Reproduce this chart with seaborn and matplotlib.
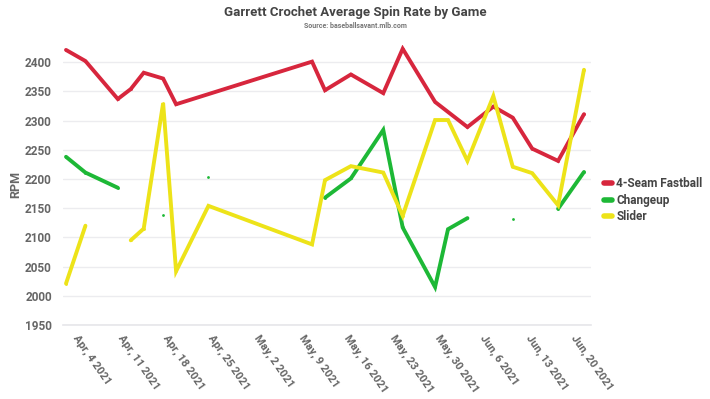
import numpy as np
import pandas as pd
import matplotlib
matplotlib.use("Agg")
import matplotlib.pyplot as plt
import matplotlib.dates as mdates
import seaborn as sns

nan = np.nan

# game dates and average spin rate (rpm) per pitch type
dates = ["2021-04-02", "2021-04-05", "2021-04-10", "2021-04-12", "2021-04-14",
         "2021-04-17", "2021-04-19", "2021-04-24", "2021-05-10", "2021-05-12",
         "2021-05-16", "2021-05-21", "2021-05-24", "2021-05-29", "2021-05-31",
         "2021-06-03", "2021-06-07", "2021-06-10", "2021-06-13", "2021-06-17",
         "2021-06-21"]
fastball = [2421, 2402, 2337, 2354, 2382, 2372, 2328, nan, 2401, 2352,
            2379, 2347, 2423, 2332, nan, 2289, 2324, 2305, 2252, 2231, 2311]
changeup = [2238, 2211, 2185, nan, nan, 2138, nan, 2203, nan, 2168,
            2201, 2284, 2117, 2015, 2114, 2133, nan, 2131, nan, 2149, 2212]
slider = [2021, 2120, nan, 2095, 2115, 2330, 2042, 2154, 2088, 2198,
          2222, 2211, 2137, 2301, 2301, 2231, 2342, 2221, 2210, 2155, 2387]

pitches = ["4-Seam Fastball", "Changeup", "Slider"]
colors = ["#D7263D", "#1DB836", "#EDE319"]

df = pd.DataFrame({
    "date": pd.to_datetime(dates),
    "4-Seam Fastball": fastball,
    "Changeup": changeup,
    "Slider": slider,
})

sns.set_style("white")
plt.rcParams["font.family"] = ["Roboto", "DejaVu Sans"]

fig = plt.figure(figsize=(7.1, 3.99), dpi=100)
ax = fig.add_axes([0.0887, 0.1855, 0.7433, 0.7025])

for pitch, col in zip(pitches, colors):
    d = df[["date", pitch]]
    if pitch == "4-Seam Fastball":
        d = d.dropna()
    ax.plot(d["date"], d[pitch], color=col, lw=2.8, marker="o", ms=2,
            mew=0, label=pitch, solid_joinstyle="miter")

ax.set_ylim(1950, 2430)
ax.set_yticks(range(1950, 2401, 50))
ax.set_xlim(pd.Timestamp("2021-04-01 12:45"), pd.Timestamp("2021-06-22 01:00"))
ax.xaxis.set_major_locator(mdates.WeekdayLocator(byweekday=mdates.SU))
ax.xaxis.set_major_formatter(mdates.DateFormatter("%b, %-d %Y"))

ax.grid(axis="y", color="#ECECEF", lw=1)
ax.set_axisbelow(True)
for s in ["top", "right", "left"]:
    ax.spines[s].set_visible(False)
ax.spines["bottom"].set_color("#E6E6EA")
ax.spines["bottom"].set_linewidth(1.2)

ax.tick_params(axis="x", length=4, color="#DADADA", pad=2)
ax.tick_params(axis="y", length=0, pad=8)
for lab in ax.get_xticklabels():
    lab.set_rotation(-55)
    lab.set_ha("left")
    lab.set_rotation_mode("anchor")
    lab.set_fontsize(8)
    lab.set_fontweight("bold")
    lab.set_color("#666666")
for lab in ax.get_yticklabels():
    lab.set_fontsize(8.5)
    lab.set_fontweight("bold")
    lab.set_color("#666666")

ax.set_ylabel("RPM", fontsize=9, fontweight="bold", color="#666666", labelpad=2)
ax.set_xlabel("")

leg = ax.legend(loc="center left", bbox_to_anchor=(1.005, 0.445), frameon=False,
                handlelength=0.7, handletextpad=0.35, labelspacing=0.3,
                prop={"weight": "bold", "size": 8.5})
for t in leg.get_texts():
    t.set_color("#444444")
for h in leg.get_lines():
    h.set_linewidth(4)
    h.set_marker("")

fig.text(0.5, 0.968, "Garrett Crochet Average Spin Rate by Game", ha="center",
         va="center", fontsize=9.5, fontweight="bold", color="#444444")
fig.text(0.5, 0.934, "Source: baseballsavant.mlb.com", ha="center", va="center",
         fontsize=5, fontweight="bold", color="#777777")

plt.savefig("out.png", dpi=100)
